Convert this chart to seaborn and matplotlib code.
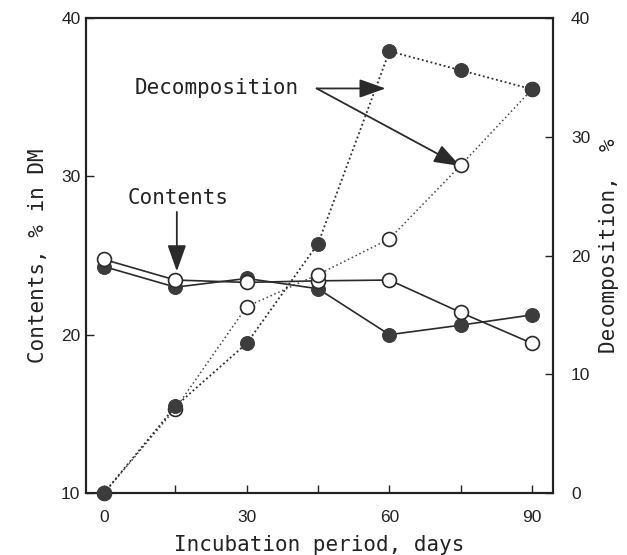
import matplotlib
matplotlib.use("Agg")
import matplotlib.pyplot as plt
import seaborn as sns
import numpy as np

days = [0, 15, 30, 45, 60, 75, 90]
contents_filled = [24.3, 23.0, 23.55, 22.9, 20.0, 20.6, 21.25]
contents_open = [24.75, 23.45, 23.3, 23.4, 23.45, 21.4, 19.45]
decomp_filled = [0.0, 7.3, 12.6, 21.0, 37.2, 35.6, 34.0]
decomp_open = [0.0, 7.1, 15.7, 18.4, 21.4, 27.6, 34.0]

x_major = [0, 30, 60, 90]
x_minor = [15, 45, 75]
left_ticks = [10, 20, 30, 40]
right_ticks = [0, 10, 20, 30, 40]

sns.set_style("ticks")
plt.rcParams['font.family'] = ['DejaVu Sans Mono', 'DejaVu Sans']

fig = plt.figure(figsize=(6.27, 5.55), dpi=100)
ax = fig.add_axes([86/627, 62/555, (553-86)/627, (493-18)/555])
ax2 = ax.twinx()

dark = '#3c3c3c'
line = '#2a2a2a'

sns.lineplot(x=days, y=contents_filled, ax=ax, color=line, linewidth=1.2,
             marker='o', markersize=10, markerfacecolor=dark, markeredgecolor=dark,
             clip_on=False, zorder=3)
sns.lineplot(x=days, y=contents_open, ax=ax, color=line, linewidth=1.2,
             marker='o', markersize=10, markerfacecolor='white', markeredgecolor=line,
             markeredgewidth=1.2, clip_on=False, zorder=3)
sns.lineplot(x=days, y=decomp_open, ax=ax2, color='#444444', linewidth=1.1,
             linestyle=(0, (1, 1.8)),
             marker='o', markersize=10, markerfacecolor='white', markeredgecolor=line,
             markeredgewidth=1.2, clip_on=False, zorder=3)
sns.lineplot(x=days, y=decomp_filled, ax=ax2, color=line, linewidth=1.3,
             linestyle=(0, (1, 1.5)),
             marker='o', markersize=10, markerfacecolor=dark, markeredgecolor=dark,
             clip_on=False, zorder=4)

ax.set_xlim(-3.8, 94.4)
ax.set_ylim(10, 40)
ax2.set_ylim(0, 40)

ax.set_xticks(x_major)
ax.set_xticks(x_minor, minor=True)
ax.set_yticks(left_ticks)
ax2.set_yticks(right_ticks)

tickfont = dict(family='Liberation Sans', size=12.5)
ax.set_xticklabels([str(v) for v in x_major], fontdict=tickfont)
ax.set_yticklabels([str(v) for v in left_ticks], fontdict=tickfont)
ax2.set_yticklabels([str(v) for v in right_ticks], fontdict=tickfont)

ax.tick_params(axis='x', which='both', direction='in', length=6, width=1, pad=12, colors='#222')
ax.tick_params(axis='y', direction='in', length=6, width=1, pad=4, colors='#222')
ax2.tick_params(axis='y', direction='in', length=6, width=1, pad=13, colors='#222')

for a in (ax, ax2):
    for s in a.spines.values():
        s.set_visible(True)
        s.set_linewidth(1.5)
        s.set_color('#222')

fs = 15
labfont = dict(size=fs, color='#222')
ax.set_xlabel('Incubation period, days', fontdict=labfont, va='center')
ax.xaxis.set_label_coords(0.5, -0.11)
ax.set_ylabel('Contents, % in DM', fontdict=labfont, va='center')
ax.yaxis.set_label_coords(-0.103, 0.5)
ax2.set_ylabel('Decomposition,  %', fontdict=labfont, va='center', rotation=90)
ax2.yaxis.set_label_coords(1.12, 0.52)

# annotations
ax.text(6.5, 35.55, 'Decomposition', fontsize=fs, va='center', ha='left', color='#222')
ap = dict(arrowstyle='-|>,head_length=0.9,head_width=0.32', mutation_scale=18,
          color='#2a2a2a', lw=1.3, shrinkA=0, shrinkB=0)
ax.annotate('', xy=(59.2, 35.55), xytext=(44.7, 35.55), arrowprops=ap)
ax.annotate('', xy=(74.9, 30.65), xytext=(44.7, 35.55), arrowprops=ap)
ax.text(5.0, 28.6, 'Contents', fontsize=fs, va='center', ha='left', color='#222')
ax.annotate('', xy=(15.3, 24.0), xytext=(15.3, 27.75), arrowprops=ap)

fig.savefig('out.png', dpi=100, facecolor='white')
